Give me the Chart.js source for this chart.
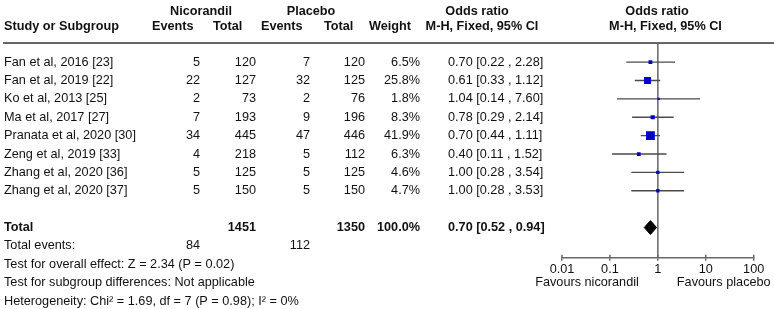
<!DOCTYPE html>
<html>
<head>
<meta charset="utf-8">
<script src="https://cdn.jsdelivr.net/npm/chart.js@4/dist/chart.umd.min.js"></script>
<style>
  html, body { margin: 0; padding: 0; background: #ffffff; }
  #wrap { position: relative; width: 774px; height: 309px; }
  canvas { display: block; }
</style>
</head>
<body>
<div id="wrap"><canvas id="c" width="774" height="309"></canvas></div>
<script>
// ---------------- DATA ----------------
const studies = [
  "Fan et al, 2016 [23]",
  "Fan et al, 2019 [22]",
  "Ko et al, 2013 [25]",
  "Ma et al, 2017 [27]",
  "Pranata et al, 2020 [30]",
  "Zeng et al, 2019 [33]",
  "Zhang et al, 2020 [36]",
  "Zhang et al, 2020 [37]"
];
const nicEvents = [5, 22, 2, 7, 34, 4, 5, 5];
const nicTotal  = [120, 127, 73, 193, 445, 218, 125, 150];
const plaEvents = [7, 32, 2, 9, 47, 5, 5, 5];
const plaTotal  = [120, 125, 76, 196, 446, 112, 125, 150];
const weights   = [6.5, 25.8, 1.8, 8.3, 41.9, 6.3, 4.6, 4.7];
const orEst     = [0.70, 0.61, 1.04, 0.78, 0.70, 0.40, 1.00, 1.00];
const orLow     = [0.22, 0.33, 0.14, 0.29, 0.44, 0.11, 0.28, 0.28];
const orHigh    = [2.28, 1.12, 7.60, 2.14, 1.11, 1.52, 3.54, 3.53];

const totalLabel = "Total";
const totalN     = [1451, 1350];      // nicorandil, placebo
const totalEvts  = [84, 112];         // nicorandil, placebo
const totalWeight = 100.0;
const pooledOR   = [0.70, 0.52, 0.94]; // estimate, low, high

const xTicks = [0.01, 0.1, 1, 10, 100];
const favourLabels = ["Favours nicorandil", "Favours placebo"];
const footerLines = [
  "Test for overall effect: Z = 2.34 (P = 0.02)",
  "Test for subgroup differences: Not applicable",
  "Heterogeneity: Chi\u00b2 = 1.69, df = 7 (P = 0.98); I\u00b2 = 0%"
];
const headerGroups = ["Nicorandil", "Placebo", "Odds ratio", "Odds ratio"];
const headerCols = ["Study or Subgroup", "Events", "Total", "Events", "Total", "Weight", "M-H, Fixed, 95% CI", "M-H, Fixed, 95% CI"];

// ---------------- STYLE / LAYOUT ----------------
const FONT = '"Liberation Sans", Arial, Helvetica, sans-serif';
const FS = 12.7;
const TXT = '#111111';
const GRAY = '#666666';
const BLUE = '#0000cc';
const ROW_TOP = -1.04, ROW_BOTTOM = 10.64; // y-scale range in row units
const totalRow = studies.length + 1;

function fmt2(v) { return v.toFixed(2); }
function ciText(e, l, h) { return fmt2(e) + ' [' + fmt2(l) + ' , ' + fmt2(h) + ']'; }

// ---------------- DATASETS ----------------
const datasets = [];
// squares (drawn on top: index 0)
datasets.push({
  type: 'scatter',
  data: orEst.map((v, i) => ({ x: v, y: i })),
  pointStyle: 'rect',
  pointRadius: weights.map(w => Math.sqrt(w) * 0.9 + 0.4),
  backgroundColor: BLUE,
  borderColor: BLUE,
  pointBorderWidth: 0,
  showLine: false
});
// pooled diamond
datasets.push({
  type: 'line',
  data: [
    { x: pooledOR[1], y: totalRow },
    { x: pooledOR[0], y: totalRow - 0.38 },
    { x: pooledOR[2], y: totalRow },
    { x: pooledOR[0], y: totalRow + 0.38 },
    { x: pooledOR[1], y: totalRow }
  ],
  borderColor: '#000000',
  backgroundColor: '#000000',
  borderWidth: 1,
  fill: 'shape',
  pointRadius: 0,
  tension: 0
});
// CI lines
orLow.forEach((lo, i) => {
  datasets.push({
    type: 'line',
    data: [{ x: lo, y: i }, { x: orHigh[i], y: i }],
    borderColor: '#4a4a4a',
    borderWidth: 1.3,
    pointRadius: 0,
    fill: false
  });
});
// line of no effect
datasets.push({
  type: 'line',
  data: [{ x: 1, y: ROW_TOP }, { x: 1, y: ROW_BOTTOM }],
  borderColor: GRAY,
  borderWidth: 1.5,
  pointRadius: 0,
  fill: false
});

// ---------------- TABLE PLUGIN ----------------
const tablePlugin = {
  id: 'forestTable',
  afterDraw(chart) {
    const ctx = chart.ctx;
    const ys = chart.scales.y;
    const xs = chart.scales.x;
    const Y = r => ys.getPixelForValue(r);
    ctx.save();
    ctx.fillStyle = TXT;
    ctx.textBaseline = 'middle';
    const txt = (s, x, y, align, bold) => {
      ctx.font = (bold ? 'bold ' : '') + FS + 'px ' + FONT;
      ctx.textAlign = align;
      ctx.fillText(s, x, y);
    };
    // header
    const h1 = Y(-2.75), h2 = Y(-1.95);
    txt(headerGroups[0], 201, h1, 'center', true);
    txt(headerGroups[1], 311, h1, 'center', true);
    txt(headerGroups[2], 477, h1, 'center', true);
    txt(headerGroups[3], 657, h1, 'center', true);
    txt(headerCols[0], 4, h2, 'left', true);
    txt(headerCols[1], 152, h2, 'left', true);
    txt(headerCols[2], 213, h2, 'left', true);
    txt(headerCols[3], 261, h2, 'left', true);
    txt(headerCols[4], 324, h2, 'left', true);
    txt(headerCols[5], 369, h2, 'left', true);
    txt(headerCols[6], 482, h2, 'center', true);
    txt(headerCols[7], 665.5, h2, 'center', true);
    // header rule
    ctx.strokeStyle = GRAY;
    ctx.lineWidth = 2;
    ctx.beginPath();
    ctx.moveTo(3, Y(ROW_TOP));
    ctx.lineTo(774, Y(ROW_TOP));
    ctx.stroke();
    // study rows
    studies.forEach((s, i) => {
      const y = Y(i);
      txt(s, 4, y, 'left', false);
      txt(String(nicEvents[i]), 200, y, 'right', false);
      txt(String(nicTotal[i]), 256, y, 'right', false);
      txt(String(plaEvents[i]), 310, y, 'right', false);
      txt(String(plaTotal[i]), 365, y, 'right', false);
      txt(weights[i].toFixed(1) + '%', 420, y, 'right', false);
      txt(ciText(orEst[i], orLow[i], orHigh[i]), 448, y, 'left', false);
    });
    // total row
    const yt = Y(totalRow);
    txt(totalLabel, 4, yt, 'left', true);
    txt(String(totalN[0]), 256, yt, 'right', true);
    txt(String(totalN[1]), 365, yt, 'right', true);
    txt(totalWeight.toFixed(1) + '%', 420, yt, 'right', true);
    txt(ciText(pooledOR[0], pooledOR[1], pooledOR[2]), 448, yt, 'left', true);
    // total events
    const ye = Y(totalRow + 1);
    txt('Total events:', 4, ye, 'left', false);
    txt(String(totalEvts[0]), 200, ye, 'right', false);
    txt(String(totalEvts[1]), 310, ye, 'right', false);
    footerLines.forEach((l, k) => txt(l, 4, Y(totalRow + 2 + k), 'left', false));
    // tick marks above the axis line
    ctx.strokeStyle = GRAY;
    ctx.lineWidth = 1.5;
    const axisY = chart.chartArea.bottom;
    xs.ticks.forEach(t => {
      const px = xs.getPixelForValue(t.value);
      ctx.beginPath();
      ctx.moveTo(px, axisY - 3);
      ctx.lineTo(px, axisY);
      ctx.stroke();
    });
    // favours labels
    const p1 = xs.getPixelForValue(1);
    const yf = axisY + 24.5;
    txt(favourLabels[0], p1 - 19, yf, 'right', false);
    txt(favourLabels[1], p1 + 19, yf, 'left', false);
    ctx.restore();
  }
};

new Chart(document.getElementById('c'), {
  data: { datasets },
  options: {
    responsive: false,
    devicePixelRatio: 1,
    animation: false,
    events: [],
    layout: { padding: { left: 562, right: 20.3, top: 43, bottom: 31.1 } },
    plugins: { legend: { display: false }, tooltip: { enabled: false } },
    scales: {
      x: {
        type: 'logarithmic',
        position: 'bottom',
        min: 0.01,
        max: 100,
        afterBuildTicks: scale => { scale.ticks = xTicks.map(v => ({ value: v })); },
        ticks: {
          callback: v => String(v),
          font: { family: FONT, size: FS },
          color: TXT,
          padding: 1,
          maxRotation: 0,
          autoSkip: false
        },
        grid: { drawOnChartArea: false, drawTicks: true, tickLength: 3, color: GRAY, lineWidth: 1.5 },
        border: { display: true, color: GRAY, width: 1.5 }
      },
      y: {
        type: 'linear',
        display: false,
        reverse: true,
        min: ROW_TOP,
        max: ROW_BOTTOM
      }
    }
  },
  plugins: [tablePlugin]
});
</script>
</body>
</html>
